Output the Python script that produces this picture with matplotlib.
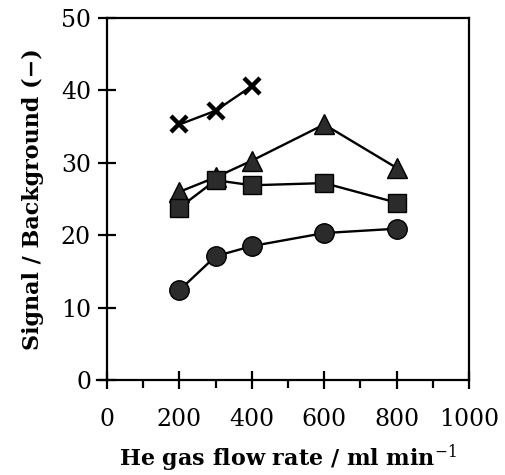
import numpy as np
from matplotlib import pyplot as plt
from matplotlib.ticker import MultipleLocator

plt.rcParams['font.family'] = ['DejaVu Serif']
plt.rcParams['mathtext.fontset'] = 'dejavuserif'

# He gas flow rate (ml/min)
flow_x = [200, 300, 400]
flow = [200, 300, 400, 600, 800]

# signal / background for each series
sb_cross = [35.3, 37.2, 40.6]
sb_triangle = [26.0, 28.0, 30.3, 35.3, 29.3]
sb_square = [23.8, 27.6, 26.9, 27.2, 24.5]
sb_circle = [12.4, 17.1, 18.5, 20.3, 20.9]

fig = plt.figure(figsize=(5.06, 4.75), dpi=100)
ax = fig.add_axes([0.2115, 0.2, 0.7155, 0.762])

face = '#2b2b2b'
ax.plot(flow_x, sb_cross, color='black', lw=1.7, marker='x', ms=12, mew=3.2)
ax.plot(flow, sb_triangle, color='black', lw=1.7, marker='^', ms=14, mfc=face, mec='black')
ax.plot(flow, sb_square, color='black', lw=1.7, marker='s', ms=13, mfc=face, mec='black')
ax.plot(flow, sb_circle, color='black', lw=1.7, marker='o', ms=14, mfc=face, mec='black')

ax.set_xlim(0, 1000)
ax.set_ylim(0, 50)
ax.xaxis.set_major_locator(MultipleLocator(200))
ax.xaxis.set_minor_locator(MultipleLocator(100))
ax.yaxis.set_major_locator(MultipleLocator(10))

for s in ax.spines.values():
    s.set_linewidth(1.6)
ax.spines['bottom'].set_bounds(-28, 1000)

ax.tick_params(axis='both', which='major', direction='inout', length=13, width=1.6,
               labelsize=17, color='black')
ax.tick_params(axis='x', which='major', pad=14)
ax.tick_params(axis='y', which='major', pad=5)
ax.tick_params(axis='x', which='minor', direction='out', length=6, width=1.6)

ax.set_xlabel('He gas flow rate / ml min$^{-1}$', fontsize=16, fontweight='bold', labelpad=8)
ax.set_ylabel('Signal / Background (\u2212)', fontsize=16, fontweight='bold', labelpad=12)

fig.savefig('out.png', dpi=100)
